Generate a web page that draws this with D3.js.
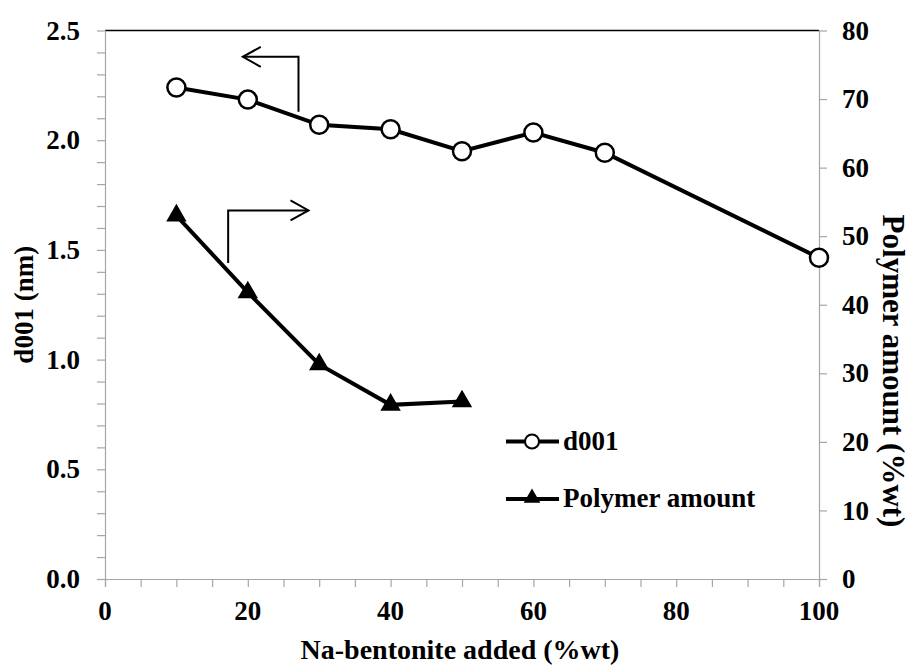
<!DOCTYPE html>
<html>
<head>
<meta charset="utf-8">
<script src="https://cdn.jsdelivr.net/npm/d3@7"></script>
<style>
  html, body { margin: 0; padding: 0; background: #fff; }
  svg { display: block; }
</style>
</head>
<body>
<svg id="chart" width="910" height="666"></svg>
<script>
// Na-bentonite content (%wt)
const d001X = [10, 20, 30, 40, 50, 60, 70, 100];
// Basal spacing d001 (nm), left axis
const d001Values = [2.24, 2.185, 2.07, 2.05, 1.95, 2.035, 1.943, 1.464];
const polymerX = [10, 20, 30, 40, 50];
// Polymer amount (%wt), right axis
const polymerValues = [53.0, 41.8, 31.3, 25.4, 25.9];

const xTicks = [0, 20, 40, 60, 80, 100];
const leftTicks = [0, 0.5, 1.0, 1.5, 2.0, 2.5];
const rightTicks = [0, 10, 20, 30, 40, 50, 60, 70, 80];

const svg = d3.select("#chart");
const plotL = 105, plotR = 819, plotT = 30.5, plotB = 579;
const serif = "Liberation Serif";

const x = d3.scaleLinear().domain([0, 100]).range([plotL, plotR]);
const yL = d3.scaleLinear().domain([0, 2.5]).range([plotB, plotT]);
const yR = d3.scaleLinear().domain([0, 80]).range([plotB, plotT]);

const axisGray = "#a6a6a6";
const fontSize = 27;

// top frame line
svg.append("line")
  .attr("x1", plotL).attr("x2", plotR).attr("y1", plotT).attr("y2", plotT)
  .attr("stroke", "#000").attr("stroke-width", 1.5);

// x axis (minor ticks every 5)
const gx = svg.append("g").attr("transform", `translate(0,${plotB})`)
  .call(d3.axisBottom(x).tickValues(d3.range(0, 101, 5)).tickSize(8).tickFormat(""));
// left axis (minor ticks every 0.1)
const gl = svg.append("g").attr("transform", `translate(${plotL},0)`)
  .call(d3.axisLeft(yL).tickValues(d3.range(0, 26).map(i => i / 10)).tickSize(8).tickFormat(""));
// right axis
const gr = svg.append("g").attr("transform", `translate(${plotR},0)`)
  .call(d3.axisRight(yR).tickValues(rightTicks).tickSize(8).tickFormat(""));

[gx, gl, gr].forEach(g => {
  g.select(".domain").attr("stroke", axisGray).attr("stroke-width", 1.2);
  g.selectAll(".tick line").attr("stroke", axisGray).attr("stroke-width", 1.2);
});
// plain domain lines without outer tick stubs
gx.select(".domain").attr("d", `M${plotL - 8},0.5H${plotR}`);
gl.select(".domain").attr("d", `M0.5,${plotT}V${plotB + 8}`);
gr.select(".domain").attr("d", `M0.5,${plotT}V${plotB + 8}`);

const label = (sel, size = fontSize) =>
  sel.attr("font-family", serif).attr("font-weight", "bold").attr("font-size", size).attr("fill", "#000");

// tick labels
svg.append("g").selectAll("text").data(xTicks).join("text")
  .attr("x", d => x(d)).attr("y", 620)
  .attr("text-anchor", "middle").call(label)
  .text(d => d);
svg.append("g").selectAll("text").data(leftTicks).join("text")
  .attr("x", 80).attr("y", d => yL(d)).attr("dy", "0.34em")
  .attr("text-anchor", "end").call(label)
  .text(d => d.toFixed(1));
svg.append("g").selectAll("text").data(rightTicks).join("text")
  .attr("x", 842).attr("y", d => yR(d)).attr("dy", "0.34em")
  .attr("text-anchor", "start").call(label)
  .text(d => d);

// axis titles
svg.append("text")
  .attr("x", 460).attr("y", 659).attr("text-anchor", "middle")
  .call(label, 28).text("Na-bentonite added (%wt)");
svg.append("text")
  .attr("transform", `translate(33,${(plotT + plotB) / 2}) rotate(-90)`)
  .attr("text-anchor", "middle").call(label).text("d001 (nm)");
svg.append("text")
  .attr("transform", `translate(883,371) rotate(90)`)
  .attr("text-anchor", "middle").call(label, 31).text("Polymer amount (%wt)");

// series lines
const d001Pts = d001X.map((v, i) => [v, d001Values[i]]);
const polyPts = polymerX.map((v, i) => [v, polymerValues[i]]);

svg.append("path").datum(d001Pts)
  .attr("d", d3.line().x(d => x(d[0])).y(d => yL(d[1])))
  .attr("fill", "none").attr("stroke", "#000").attr("stroke-width", 4);
svg.append("path").datum(polyPts)
  .attr("d", d3.line().x(d => x(d[0])).y(d => yR(d[1])))
  .attr("fill", "none").attr("stroke", "#000").attr("stroke-width", 4);

// markers
svg.append("g").selectAll("circle").data(d001Pts).join("circle")
  .attr("cx", d => x(d[0])).attr("cy", d => yL(d[1])).attr("r", 9)
  .attr("fill", "#fff").attr("stroke", "#000").attr("stroke-width", 2.5);
const tri = d3.symbol().type(d3.symbolTriangle).size(180);
svg.append("g").selectAll("path").data(polyPts).join("path")
  .attr("transform", d => `translate(${x(d[0])},${yR(d[1])})`)
  .attr("d", tri).attr("fill", "#000");

// axis-pointer arrows
function elbowArrow(xs, yTop, yBot, xEnd) {
  const g = svg.append("g").attr("fill", "none").attr("stroke", "#000").attr("stroke-width", 2);
  const px = x(xs), pt = yL(yTop), pb = yL(yBot), pe = x(xEnd);
  g.append("path").attr("d", `M${px},${pb}V${pt}H${pe}`);
  const dir = pe < px ? 1 : -1;
  g.append("path").attr("d", `M${pe + dir * 18},${pt - 10}L${pe},${pt}L${pe + dir * 18},${pt + 10}`);
}
elbowArrow(27.1, 2.38, 2.13, 19.3);
elbowArrow(17.25, 1.68, 1.44, 28.5);

// legend
const legend = svg.append("g");
legend.append("line").attr("x1", 506).attr("x2", 559).attr("y1", 441.5).attr("y2", 441.5)
  .attr("stroke", "#000").attr("stroke-width", 4);
legend.append("circle").attr("cx", 532).attr("cy", 441.5).attr("r", 7)
  .attr("fill", "#fff").attr("stroke", "#000").attr("stroke-width", 2);
legend.append("text").attr("x", 563).attr("y", 450).call(label).text("d001");
legend.append("line").attr("x1", 506).attr("x2", 559).attr("y1", 499).attr("y2", 499)
  .attr("stroke", "#000").attr("stroke-width", 4);
legend.append("path").attr("transform", "translate(532,498)")
  .attr("d", d3.symbol().type(d3.symbolTriangle).size(120)).attr("fill", "#000");
legend.append("text").attr("x", 563).attr("y", 507).call(label).text("Polymer amount");
</script>
</body>
</html>
